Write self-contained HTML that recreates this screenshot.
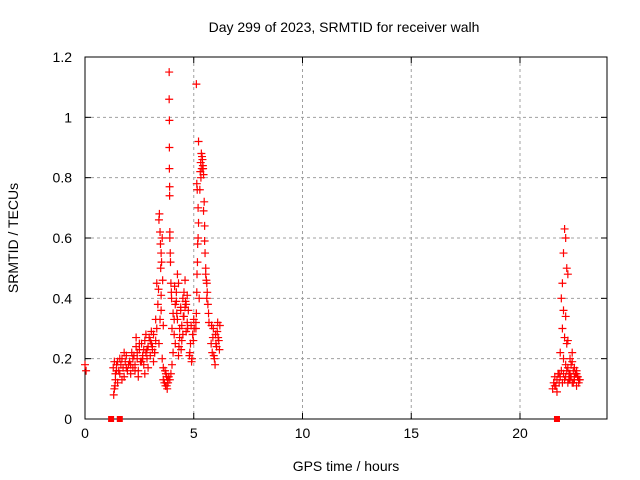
<!DOCTYPE html>
<html><head><meta charset="utf-8"><style>
body{margin:0;background:#fff;}
svg{display:block;font-family:"Liberation Sans",Arial,sans-serif;}
</style></head><body>
<svg id="chart" width="640" height="480" viewBox="0 0 640 480">
<rect width="640" height="480" fill="#fff"/>
<text x="344" y="32" font-size="14" text-anchor="middle">Day 299 of 2023, SRMTID for receiver walh</text>
<g id="grid"></g>
<g id="axes"></g>
<g id="marks"></g>
<text x="346" y="471" font-size="14" text-anchor="middle">GPS time / hours</text>
<text x="18" y="238" font-size="14" text-anchor="middle" transform="rotate(-90 18 238)">SRMTID / TECUs</text>
</svg>
<script>
const xTicks=[0,5,10,15,20];
const yTicks=[0,0.2,0.4,0.6,0.8,1,1.2];
const yTickLabels=["0","0.2","0.4","0.6","0.8","1","1.2"];
const hours=[0,0.05,
1.3,1.35,1.4,1.45,1.5,1.55,1.6,1.65,1.7,1.75,1.8,1.85,1.9,1.95,2.0,1.4,1.5,1.6,1.7,1.8,1.9,1.35,1.45,1.32,1.38,
2.05,2.1,2.15,2.2,2.25,2.3,2.35,2.4,2.45,2.5,2.55,2.6,2.65,2.7,2.75,2.8,2.85,2.9,2.95,3.0,3.05,3.1,3.15,3.2,3.25,3.3,2.1,2.2,2.3,2.4,2.5,2.6,2.7,2.8,2.9,3.0,3.1,3.2,2.45,2.65,2.85,3.05,3.25,2.35,2.75,3.15,
3.3,3.35,3.4,3.42,3.45,3.47,3.5,3.52,3.5,3.55,3.57,3.6,3.4,3.45,3.5,3.55,3.6,3.38,3.48,
3.6,3.65,3.7,3.72,3.75,3.78,3.8,3.82,3.85,3.68,3.76,3.9,3.95,
3.87,3.87,3.88,3.88,3.88,3.89,3.89,3.9,3.9,3.92,3.93,3.95,3.97,3.98,
4.0,4.05,4.1,4.15,4.2,4.25,4.3,4.35,4.4,4.45,4.5,4.55,4.6,4.65,4.7,4.75,4.05,4.15,4.25,4.35,4.45,4.55,4.65,4.1,4.2,4.3,4.4,4.5,4.6,4.7,4.0,4.12,4.32,4.52,4.72,4.22,4.42,4.62,
4.8,4.85,4.9,4.95,5.0,4.82,4.88,4.92,4.98,5.02,
5.1,5.12,5.14,5.15,5.17,5.18,5.2,5.22,5.2,5.16,5.14,5.22,5.12,5.1,5.25,
5.3,5.32,5.35,5.37,5.4,5.42,5.45,5.33,5.38,5.43,5.28,5.48,
5.45,5.5,5.52,5.55,5.58,5.6,5.62,5.65,5.5,5.6,5.55,5.68,5.7,
5.8,5.85,5.9,5.95,6.0,6.05,6.1,6.15,6.2,5.88,5.98,6.08,6.18,5.82,5.92,6.02,6.12,
21.5,21.55,21.6,21.65,21.7,21.75,21.8,21.85,21.9,21.95,22.0,22.05,22.1,22.15,22.2,22.25,22.3,22.35,22.4,22.45,22.5,22.55,22.6,22.65,22.7,22.75,
21.9,21.95,22.0,22.05,22.1,22.15,22.2,22.0,22.1,21.95,22.05,22.15,21.85,22.0,22.1,
22.2,22.3,22.4,22.5,22.6,22.25,22.35,22.45,22.55,22.65,22.3,22.5,22.7,21.6,21.7,21.8,22.2,22.4,22.6];
const values=[0.18,0.16,
0.17,0.10,0.13,0.18,0.19,0.16,0.15,0.18,0.20,0.17,0.14,0.19,0.21,0.16,0.18,0.15,0.12,0.20,0.13,0.22,0.17,0.19,0.16,0.08,0.11,
0.19,0.15,0.22,0.17,0.21,0.18,0.24,0.20,0.16,0.23,0.19,0.25,0.21,0.18,0.26,0.22,0.20,0.24,0.27,0.21,0.25,0.23,0.28,0.22,0.26,0.30,0.18,0.20,0.16,0.22,0.25,0.19,0.23,0.28,0.17,0.26,0.24,0.22,0.14,0.20,0.23,0.29,0.33,0.27,0.15,0.19,
0.45,0.38,0.66,0.68,0.62,0.58,0.55,0.52,0.41,0.60,0.46,0.31,0.25,0.33,0.36,0.20,0.17,0.43,0.50,
0.13,0.12,0.11,0.15,0.14,0.10,0.13,0.12,0.14,0.16,0.11,0.13,0.15,
1.15,1.06,0.99,0.90,0.83,0.77,0.74,0.62,0.60,0.55,0.52,0.45,0.42,0.40,
0.30,0.35,0.28,0.38,0.42,0.33,0.45,0.30,0.37,0.26,0.40,0.34,0.46,0.38,0.32,0.36,0.22,0.25,0.48,0.27,0.31,0.42,0.29,0.33,0.39,0.21,0.36,0.28,0.37,0.41,0.18,0.44,0.24,0.34,0.30,0.35,0.23,0.39,
0.21,0.25,0.19,0.28,0.33,0.22,0.31,0.20,0.26,0.30,
0.32,0.35,0.42,0.48,0.52,0.58,0.60,0.65,0.70,0.76,0.78,0.92,1.11,0.30,0.40,
0.82,0.85,0.88,0.83,0.86,0.84,0.81,0.80,0.87,0.83,0.76,0.72,
0.69,0.59,0.55,0.50,0.46,0.45,0.42,0.38,0.64,0.40,0.48,0.35,0.32,
0.25,0.22,0.30,0.20,0.28,0.24,0.32,0.26,0.31,0.27,0.18,0.29,0.23,0.31,0.21,0.25,0.27,
0.10,0.12,0.14,0.11,0.13,0.15,0.12,0.14,0.16,0.12,0.15,0.13,0.14,0.16,0.12,0.15,0.13,0.14,0.12,0.16,0.13,0.15,0.11,0.14,0.12,0.13,
0.40,0.45,0.55,0.63,0.60,0.50,0.48,0.36,0.34,0.30,0.27,0.25,0.22,0.20,0.18,
0.17,0.15,0.19,0.14,0.16,0.13,0.18,0.12,0.15,0.14,0.20,0.17,0.13,0.11,0.09,0.15,0.26,0.22,0.15];
const zeroHours=[1.2,1.6,21.7];

const NS='http://www.w3.org/2000/svg';
const L=85,R=607,T=57,B=419,xMax=24,yMax=1.2;
function xs(h){return L+h/xMax*(R-L);}
function ys(v){return B-v/yMax*(B-T);}
function mk(tag,attrs,parent){const e=document.createElementNS(NS,tag);for(const k in attrs)e.setAttribute(k,attrs[k]);parent.appendChild(e);return e;}
const grid=document.getElementById('grid'),axes=document.getElementById('axes'),marks=document.getElementById('marks');
xTicks.forEach(t=>{const x=xs(t);
 if(t>0){const g=mk('line',{x1:x,x2:x,y1:T,y2:B,stroke:'#a0a0a0','stroke-dasharray':'3,3'},grid);
 }
 const tk=mk('line',{x1:x,x2:x,y1:B,y2:B-6,stroke:'#000'},axes);
 
 const tk2=mk('line',{x1:x,x2:x,y1:T,y2:T+6,stroke:'#000'},axes);
 
 const lb=mk('text',{x:x,y:B+19,'font-size':14,'text-anchor':'middle'},axes);lb.textContent=t;
 
});
yTicks.forEach((t,i)=>{const y=ys(t);
 if(t>0&&t<yMax){const g=mk('line',{x1:L,x2:R,y1:y,y2:y,stroke:'#a0a0a0','stroke-dasharray':'3,3'},grid);
 }
 const tk=mk('line',{x1:L,x2:L+6,y1:y,y2:y,stroke:'#000'},axes);
 
 const tk2=mk('line',{x1:R,x2:R-6,y1:y,y2:y,stroke:'#000'},axes);
 
 const lb=mk('text',{x:L-13,y:y+5,'font-size':14,'text-anchor':'end'},axes);lb.textContent=yTickLabels[i];
 
});
const frame=mk('rect',{x:L,y:T,width:R-L,height:B-T,fill:'none',stroke:'#000'},axes);

hours.forEach((h,i)=>{const x=xs(h),y=ys(values[i]);
 const p=mk('path',{d:`M${x-4} ${y}H${x+4}M${x} ${y-4}V${y+4}`,stroke:'#ff0000','stroke-width':1.2,fill:'none'},marks);
 
});
zeroHours.forEach(h=>{const x=xs(h);
 const r=mk('rect',{x:x-3,y:B-3,width:6,height:6,fill:'#ff0000'},marks);
 
});
</script>
</body></html>
